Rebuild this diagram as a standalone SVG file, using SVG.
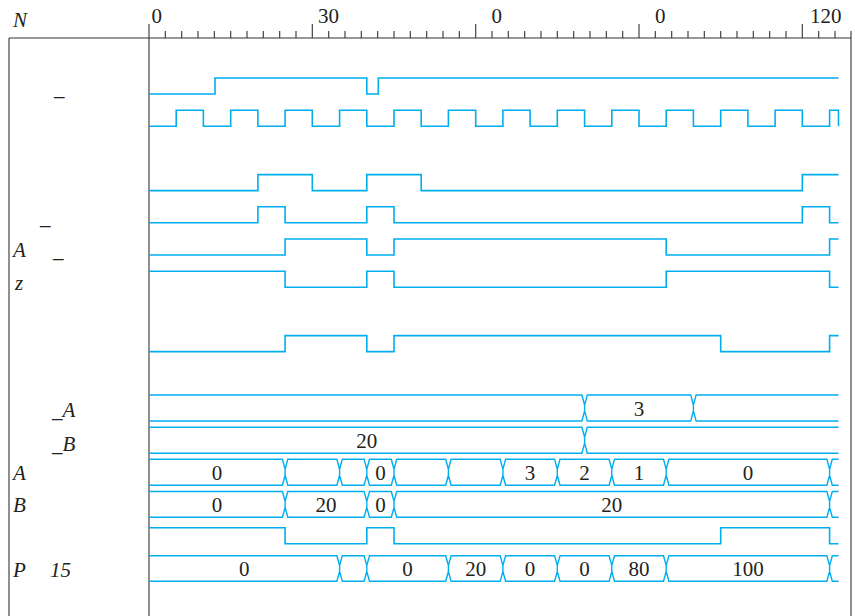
<svg xmlns="http://www.w3.org/2000/svg" width="855" height="616" viewBox="0 0 855 616">
<style>
.frame{stroke:#555;stroke-width:1.3;fill:none}
.tick{stroke:#333;stroke-width:1.1;fill:none}
.sig{stroke:#00aeef;stroke-width:1.6;fill:none;stroke-linejoin:miter}
.bus{stroke:#00aeef;stroke-width:1.4;fill:none}
.t{font-family:"Liberation Serif","Times New Roman",serif;font-size:21px;fill:#231f20}
.lbl{font-family:"Liberation Serif","Times New Roman",serif;font-size:21px;font-style:italic;fill:#231f20}
.v{font-family:"Liberation Serif","Times New Roman",serif;font-size:21px;fill:#231f20;text-anchor:middle}
</style>
<rect width="855" height="616" fill="#fff"/>
<g id="frame">
<path class="frame" d="M9,38 V616 M149,24 V616 M851,31 V616"/>
<path class="tick" d="M9,38 H851"/>
<path class="tick" d="M165.3,31V38 M181.7,31V38 M198,31V38 M214.3,31V38 M230.7,31V38 M247,31V38 M263.3,31V38 M279.7,31V38 M296,31V38 M312.3,24V38 M328.7,31V38 M345,31V38 M361.3,31V38 M377.7,31V38 M394,31V38 M410.3,31V38 M426.7,31V38 M443,31V38 M459.3,31V38 M475.7,24V38 M492,31V38 M508.3,31V38 M524.7,31V38 M541,31V38 M557.3,31V38 M573.7,31V38 M590,31V38 M606.3,31V38 M622.7,31V38 M639,24V38 M655.3,31V38 M671.7,31V38 M688,31V38 M704.3,31V38 M720.7,31V38 M737,31V38 M753.3,31V38 M769.7,31V38 M786,31V38 M802.3,24V38 M818.7,31V38 M835,31V38"/>
<text class="t" x="151.5" y="22.5">0</text>
<text class="t" x="318" y="22.5">30</text>
<text class="t" x="491.5" y="22.5">0</text>
<text class="t" x="655" y="22.5">0</text>
<text class="t" x="810" y="22.5">120</text>
</g>
<g id="labels">
<text class="lbl" x="13" y="27">N</text>
<text class="lbl" x="54" y="95">_</text>
<text class="lbl" x="40" y="224">_</text>
<text class="lbl" x="13" y="256.5">A</text>
<text class="lbl" x="53" y="256.5">_</text>
<text class="lbl" x="15" y="290">z</text>
<text class="lbl" x="52" y="416.5">_A</text>
<text class="lbl" x="52" y="450.5">_B</text>
<text class="lbl" x="13" y="480">A</text>
<text class="lbl" x="13" y="512">B</text>
<text class="lbl" x="13" y="577">P</text>
<text class="lbl" x="50" y="577">15</text>
</g>
<g id="signals">
<path id="sig1" class="sig" d="M149,94 H215 V78 H366.8 V94 H378.3 V78 H838.5"/>
<path id="sig2" class="sig" d="M149,126.2 H176.2 V110.2 H203.4 V126.2 H230.7 V110.2 H257.9 V126.2 H285.1 V110.2 H312.3 V126.2 H339.6 V110.2 H366.8 V126.2 H394 V110.2 H421.2 V126.2 H448.4 V110.2 H475.7 V126.2 H502.9 V110.2 H530.1 V126.2 H557.3 V110.2 H584.6 V126.2 H611.8 V110.2 H639 V126.2 H666.2 V110.2 H693.4 V126.2 H720.7 V110.2 H747.9 V126.2 H775.1 V110.2 H802.3 V126.2 H829.6 V110.2 H838.5 V126.2"/>
<path id="sig3" class="sig" d="M149,190.6 H257.9 V174.6 H312.3 V190.6 H366.8 V174.6 H421.2 V190.6 H802.3 V174.6 H838.5"/>
<path id="sig4" class="sig" d="M149,222.8 H257.9 V206.8 H285.1 V222.8 H366.8 V206.8 H394 V222.8 H802.3 V206.8 H829.6 V222.8 H838.5"/>
<path id="sig5" class="sig" d="M149,255 H285.1 V239 H366.8 V255 H394 V239 H666.2 V255 H829.6 V239 H838.5"/>
<path id="sig6" class="sig" d="M149,271.2 H285.1 V287.2 H366.8 V271.2 H394 V287.2 H666.2 V271.2 H829.6 V287.2 H838.5"/>
<path id="sig7" class="sig" d="M149,351.6 H285.1 V335.6 H366.8 V351.6 H394 V335.6 H720.7 V351.6 H829.6 V335.6 H838.5"/>
<path id="sig8" class="sig" d="M149,527.7 H285.1 V543.7 H366.8 V527.7 H394 V543.7 H720.7 V527.7 H829.6 V543.7 H838.5"/>
</g>
<g id="busA_">
<path class="bus" d="M149,395 H581.9 L584.6,405 V411 L581.9,421 H149 M587.3,395 H690.7 L693.4,405 V411 L690.7,421 H587.3 L584.6,411 V405 Z M838.5,395 H696.1 L693.4,405 V411 L696.1,421 H838.5"/>
<text class="v" x="639" y="415.5">3</text>
</g>
<g id="busB_">
<path class="bus" d="M149,427.2 H581.9 L584.6,437.2 V443.2 L581.9,453.2 H149 M838.5,427.2 H587.3 L584.6,437.2 V443.2 L587.3,453.2 H838.5"/>
<text class="v" x="366.8" y="447.7">20</text>
</g>
<g id="busA">
<path class="bus" d="M149,459.3 H282.4 L285.1,469.3 V475.3 L282.4,485.3 H149 M287.8,459.3 H336.9 L339.6,469.3 V475.3 L336.9,485.3 H287.8 L285.1,475.3 V469.3 Z M342.3,459.3 H364.1 L366.8,469.3 V475.3 L364.1,485.3 H342.3 L339.6,475.3 V469.3 Z M369.5,459.3 H391.3 L394,469.3 V475.3 L391.3,485.3 H369.5 L366.8,475.3 V469.3 Z M396.7,459.3 H445.7 L448.4,469.3 V475.3 L445.7,485.3 H396.7 L394,475.3 V469.3 Z M451.1,459.3 H500.2 L502.9,469.3 V475.3 L500.2,485.3 H451.1 L448.4,475.3 V469.3 Z M505.6,459.3 H554.6 L557.3,469.3 V475.3 L554.6,485.3 H505.6 L502.9,475.3 V469.3 Z M560,459.3 H609.1 L611.8,469.3 V475.3 L609.1,485.3 H560 L557.3,475.3 V469.3 Z M614.5,459.3 H663.5 L666.2,469.3 V475.3 L663.5,485.3 H614.5 L611.8,475.3 V469.3 Z M668.9,459.3 H826.9 L829.6,469.3 V475.3 L826.9,485.3 H668.9 L666.2,475.3 V469.3 Z M838.5,459.3 H832.3 L829.6,469.3 V475.3 L832.3,485.3 H838.5"/>
<text class="v" x="217" y="479.8">0</text>
<text class="v" x="380.4" y="479.8">0</text>
<text class="v" x="530.1" y="479.8">3</text>
<text class="v" x="584.6" y="479.8">2</text>
<text class="v" x="639" y="479.8">1</text>
<text class="v" x="747.9" y="479.8">0</text>
</g>
<g id="busB">
<path class="bus" d="M149,491.5 H282.4 L285.1,501.4 V507.4 L282.4,517.3 H149 M287.8,491.5 H364.1 L366.8,501.4 V507.4 L364.1,517.3 H287.8 L285.1,507.4 V501.4 Z M369.5,491.5 H391.3 L394,501.4 V507.4 L391.3,517.3 H369.5 L366.8,507.4 V501.4 Z M396.7,491.5 H826.9 L829.6,501.4 V507.4 L826.9,517.3 H396.7 L394,507.4 V501.4 Z M838.5,491.5 H832.3 L829.6,501.4 V507.4 L832.3,517.3 H838.5"/>
<text class="v" x="217" y="511.9">0</text>
<text class="v" x="326" y="511.9">20</text>
<text class="v" x="380.4" y="511.9">0</text>
<text class="v" x="611.8" y="511.9">20</text>
</g>
<g id="busP">
<path class="bus" d="M149,555.7 H336.9 L339.6,565.5 V571.5 L336.9,581.3 H149 M342.3,555.7 H364.1 L366.8,565.5 V571.5 L364.1,581.3 H342.3 L339.6,571.5 V565.5 Z M369.5,555.7 H445.7 L448.4,565.5 V571.5 L445.7,581.3 H369.5 L366.8,571.5 V565.5 Z M451.1,555.7 H500.2 L502.9,565.5 V571.5 L500.2,581.3 H451.1 L448.4,571.5 V565.5 Z M505.6,555.7 H554.6 L557.3,565.5 V571.5 L554.6,581.3 H505.6 L502.9,571.5 V565.5 Z M560,555.7 H609.1 L611.8,565.5 V571.5 L609.1,581.3 H560 L557.3,571.5 V565.5 Z M614.5,555.7 H663.5 L666.2,565.5 V571.5 L663.5,581.3 H614.5 L611.8,571.5 V565.5 Z M668.9,555.7 H826.9 L829.6,565.5 V571.5 L826.9,581.3 H668.9 L666.2,571.5 V565.5 Z M838.5,555.7 H832.3 L829.6,565.5 V571.5 L832.3,581.3 H838.5"/>
<text class="v" x="244.3" y="576">0</text>
<text class="v" x="407.6" y="576">0</text>
<text class="v" x="475.7" y="576">20</text>
<text class="v" x="530.1" y="576">0</text>
<text class="v" x="584.6" y="576">0</text>
<text class="v" x="639" y="576">80</text>
<text class="v" x="747.9" y="576">100</text>
</g>
</svg>
